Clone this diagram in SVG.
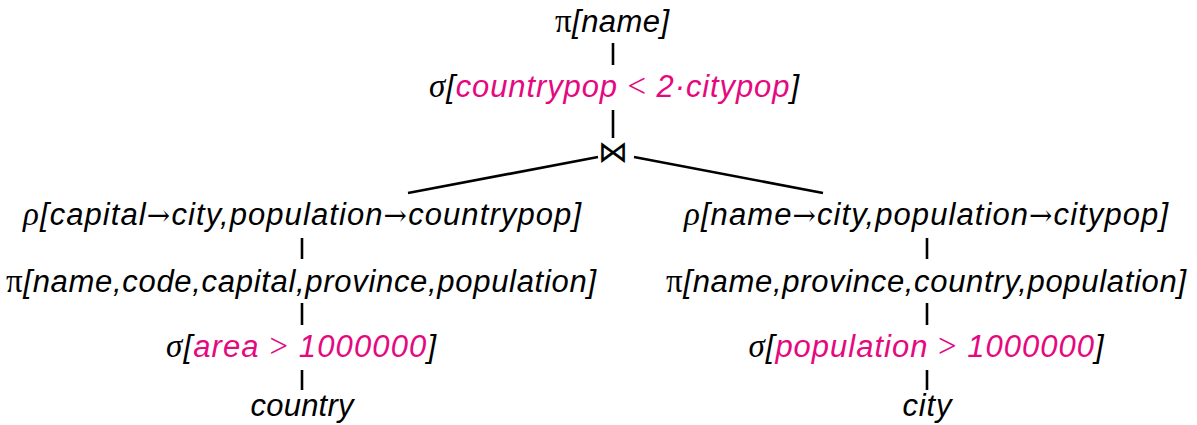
<svg xmlns="http://www.w3.org/2000/svg" width="1197" height="425" viewBox="0 0 1197 425">
<style>
.t{font-family:"Liberation Sans",Arial,sans-serif;font-style:italic;font-size:31px;fill:#000}
.m{font-family:"Liberation Serif","Times New Roman",serif;font-style:normal;font-size:33px}
.mi{font-family:"Liberation Serif","Times New Roman",serif;font-style:italic;font-size:33px}
.a{font-family:"DejaVu Serif",serif;font-style:normal;font-size:28px}
.p{fill:#e5097f}
.e{stroke:#000;stroke-width:2.6;fill:none}
</style>
<rect width="1197" height="425" fill="#fff"/>
<g id="connectors">
<line class="e" x1="613" y1="43" x2="613" y2="65"/>
<line class="e" x1="613" y1="110" x2="613" y2="138"/>
<line class="e" x1="598" y1="157" x2="408" y2="193"/>
<line class="e" x1="634" y1="157" x2="823" y2="193"/>
<line class="e" x1="302" y1="238" x2="302" y2="259"/>
<line class="e" x1="302" y1="303" x2="302" y2="325"/>
<line class="e" x1="302" y1="370" x2="302" y2="390"/>
<line class="e" x1="927" y1="238" x2="927" y2="259"/>
<line class="e" x1="927" y1="303" x2="927" y2="325"/>
<line class="e" x1="927" y1="370" x2="927" y2="390"/>
</g>
<g id="n-proj-top"><text class="t" x="612" y="32" text-anchor="middle" textLength="114"><tspan class="m">π</tspan>[name]</text></g>
<g id="n-sel-top"><text class="t" x="614" y="97" text-anchor="middle" textLength="370"><tspan class="mi">σ</tspan>[<tspan class="p">countrypop <tspan class="m">&lt;</tspan> 2·citypop</tspan>]</text></g>
<g id="n-join"><text x="613" y="162" text-anchor="middle" style="font-family:'DejaVu Serif',serif;font-size:30px">⋈</text></g>
<g id="n-rho-left"><text class="t" x="302" y="225" text-anchor="middle" textLength="558"><tspan class="mi">ρ</tspan>[capital<tspan class="a">→</tspan>city,population<tspan class="a">→</tspan>countrypop]</text></g>
<g id="n-proj-left"><text class="t" x="301" y="292" text-anchor="middle" textLength="590"><tspan class="m">π</tspan>[name,code,capital,province,population]</text></g>
<g id="n-sel-left"><text class="t" x="301" y="357" text-anchor="middle" textLength="270"><tspan class="mi">σ</tspan>[<tspan class="p">area <tspan class="m">&gt;</tspan> 1000000</tspan>]</text></g>
<g id="n-country"><text class="t" x="302" y="416" text-anchor="middle" textLength="103">country</text></g>
<g id="n-rho-right"><text class="t" x="926" y="225" text-anchor="middle" textLength="484"><tspan class="mi">ρ</tspan>[name<tspan class="a">→</tspan>city,population<tspan class="a">→</tspan>citypop]</text></g>
<g id="n-proj-right"><text class="t" x="926" y="292" text-anchor="middle" textLength="520"><tspan class="m">π</tspan>[name,province,country,population]</text></g>
<g id="n-sel-right"><text class="t" x="926" y="357" text-anchor="middle" textLength="355"><tspan class="mi">σ</tspan>[<tspan class="p">population <tspan class="m">&gt;</tspan> 1000000</tspan>]</text></g>
<g id="n-city"><text class="t" x="927" y="416" text-anchor="middle" textLength="49">city</text></g>
</svg>
